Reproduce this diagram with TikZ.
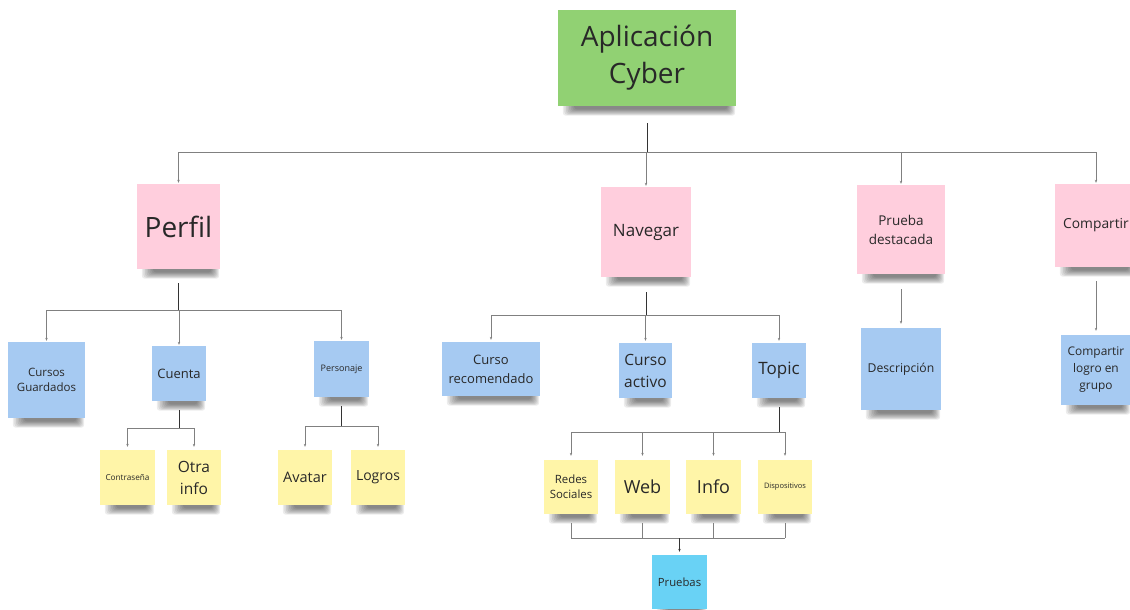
\documentclass[tikz,border=0pt]{standalone}
\usepackage{fontspec}
\setmainfont{Open Sans}
\usetikzlibrary{arrows.meta,calc}

\definecolor{ink}{RGB}{40,40,40}
\definecolor{notegreen}{RGB}{145,209,115}
\definecolor{notepink}{RGB}{255,206,221}
\definecolor{noteblue}{RGB}{166,202,242}
\definecolor{noteyellow}{RGB}{255,245,168}
\definecolor{notecyan}{RGB}{105,210,245}

\pgfdeclarelayer{paper}
\pgfdeclarelayer{shade}
\pgfsetlayers{paper,shade,main}

\tikzset{
  note/.style={inner sep=1pt, align=center, text=ink},
  stem/.style={draw=black!80, line width=0.9pt},
  rail/.style={draw=black!50, line width=0.7pt},
  link/.style={rail, -{Stealth[length=3pt,width=2.4pt]}},
  shadestrip/.style={fill=black, opacity=0.075, rounded corners=3pt},
}

\begin{document}
\begin{tikzpicture}[x=1pt,y=-1pt]
\useasboundingbox (0,0) rectangle (1130,610);
\begin{pgfonlayer}{paper}
  \fill[white] (0,0) rectangle (1130,610);
\end{pgfonlayer}

% ---------- sticky notes ----------
\node[note, fill=notegreen, minimum width=178pt, minimum height=96pt,
      font=\fontsize{28}{37}\selectfont] (app) at (647,58) {Aplicación\\Cyber};

\node[note, fill=notepink, minimum width=83pt, minimum height=85pt,
      font=\fontsize{28}{36}\selectfont] (perfil) at (178.5,226.5) {Perfil};
\node[note, fill=notepink, minimum width=90pt, minimum height=90pt,
      font=\fontsize{17}{22}\selectfont] (nav) at (646,232) {Navegar};
\node[note, fill=notepink, minimum width=88pt, minimum height=89pt,
      font=\fontsize{13.5}{19}\selectfont] (prueba) at (901,229.5) {Prueba\\destacada};
\node[note, fill=notepink, minimum width=82pt, minimum height=83pt,
      font=\fontsize{13.8}{18}\selectfont] (comp) at (1096,225.5) {Compartir};

\node[note, fill=noteblue, minimum width=77pt, minimum height=76pt,
      font=\fontsize{11.5}{15}\selectfont] (cg) at (46.5,380) {Cursos\\Guardados};
\node[note, fill=noteblue, minimum width=54pt, minimum height=55pt,
      font=\fontsize{13}{17}\selectfont] (cuenta) at (179,373.5) {Cuenta};
\node[note, fill=noteblue, minimum width=55pt, minimum height=56pt,
      font=\fontsize{9}{12}\selectfont] (pers) at (341.5,369) {Personaje};

\node[note, fill=noteyellow, minimum width=55pt, minimum height=55pt,
      font=\fontsize{8.2}{11}\selectfont] (contra) at (127.5,477.5) {Contraseña};
\node[note, fill=noteyellow, minimum width=54pt, minimum height=55pt,
      font=\fontsize{15.5}{22}\selectfont] (otra) at (194,477.5) {Otra\\info};
\node[note, fill=noteyellow, minimum width=54pt, minimum height=55pt,
      font=\fontsize{14.5}{19}\selectfont] (avatar) at (305,477.5) {Avatar};
\node[note, fill=noteyellow, minimum width=54pt, minimum height=55pt,
      font=\fontsize{14}{19}\selectfont] (logros) at (378,477.5) {Logros};

\node[note, fill=noteblue, minimum width=98pt, minimum height=54pt,
      font=\fontsize{13}{19}\selectfont] (crec) at (491,369) {Curso\\recomendado};
\node[note, fill=noteblue, minimum width=53pt, minimum height=55pt,
      font=\fontsize{15.5}{22}\selectfont] (cact) at (645.5,370.5) {Curso\\activo};
\node[note, fill=noteblue, minimum width=54pt, minimum height=55pt,
      font=\fontsize{17}{22}\selectfont] (topic) at (779,370.5) {Topic};

\node[note, fill=noteyellow, minimum width=54pt, minimum height=54pt,
      font=\fontsize{11.4}{15}\selectfont] (redes) at (571,487) {Redes\\Sociales};
\node[note, fill=noteyellow, minimum width=55pt, minimum height=54pt,
      font=\fontsize{18}{22}\selectfont] (web) at (642.5,487) {Web};
\node[note, fill=noteyellow, minimum width=55pt, minimum height=54pt,
      font=\fontsize{18}{22}\selectfont] (info) at (713.5,487) {Info};
\node[note, fill=noteyellow, minimum width=54pt, minimum height=54pt,
      font=\fontsize{7.5}{10}\selectfont] (disp) at (785,487) {Dispositivos};

\node[note, fill=notecyan, minimum width=55pt, minimum height=54pt,
      font=\fontsize{11.3}{15}\selectfont] (pruebas) at (679.5,582) {Pruebas};

\node[note, fill=noteblue, minimum width=80pt, minimum height=82pt,
      font=\fontsize{12.2}{16}\selectfont] (desc) at (901,369) {Descripción};
\node[note, fill=noteblue, minimum width=70pt, minimum height=70pt,
      font=\fontsize{11.9}{17}\selectfont] (clog) at (1096,370) {Compartir\\logro en\\grupo};

% soft shadow strip under every note
\begin{pgfonlayer}{shade}
\foreach \n in {app,perfil,nav,prueba,comp,cg,cuenta,pers,contra,otra,
                avatar,logros,crec,cact,topic,redes,web,info,disp,pruebas,desc,clog}
  \foreach \k in {0,...,7}
    \fill[shadestrip] ($(\n.south west)+(5+1.6*\k,-4)$)
                rectangle ($(\n.south east)+(-1-1.1*\k,9.5-0.9*\k)$);
\end{pgfonlayer}

% ---------- connectors ----------
% root level
\draw[stem] ($(app.south)+(0,17)$) -- ++(0,29) coordinate (r0);
\draw[rail] (r0 -| perfil) -- (r0 -| comp);
\foreach \n in {perfil,nav,prueba,comp}
  \draw[link] (r0 -| \n) -- ($(\n.north)+(0,-1)$);

% Perfil
\draw[stem] ($(perfil.south)+(0,14)$) -- ++(0,27) coordinate (p0);
\draw[rail] (p0 -| cg) -- (p0 -| pers);
\foreach \n in {cg,cuenta,pers}
  \draw[link] (p0 -| \n) -- ($(\n.north)+(0,-1)$);

% Cuenta
\draw[stem] ($(cuenta.south)+(0,9)$) -- ++(0,18) coordinate (c0);
\draw[rail] (c0 -| contra) -- (c0 -| otra);
\foreach \n in {contra,otra}
  \draw[link] (c0 -| \n) -- ($(\n.north)+(0,-3)$);

% Personaje
\draw[stem] ($(pers.south)+(0,9)$) -- ++(0,20) coordinate (s0);
\draw[rail] (s0 -| avatar) -- (s0 -| logros);
\foreach \n in {avatar,logros}
  \draw[link] (s0 -| \n) -- ($(\n.north)+(0,-3)$);

% Navegar
\draw[stem] ($(nav.south)+(0,15)$) -- ++(0,23) coordinate (n0);
\draw[rail] (n0 -| crec) -- (n0 -| topic);
\foreach \n in {crec,cact,topic}
  \draw[link] (n0 -| \n) -- ($(\n.north)+(0,-2)$);

% Topic
\draw[stem] ($(topic.south)+(0,9)$) -- ++(0,25) coordinate (t0);
\draw[rail] (t0 -| redes) -- (t0 -| disp);
\foreach \n in {redes,web,info,disp}
  \draw[link] (t0 -| \n) -- ($(\n.north)+(0,-4)$);

% merge into Pruebas
\coordinate (m0) at ($(info.south)+(0,24)$);
\foreach \n in {redes,web,info,disp}
  \draw[rail] ($(\n.south)+(0,9)$) -- (m0 -| \n);
\draw[rail] (m0 -| redes) -- (m0 -| disp);
\draw[stem, -{Stealth[length=3pt,width=2.4pt]}] (m0 -| pruebas) -- ($(pruebas.north)+(0,-3)$);

% single children
\draw[link] ($(prueba.south)+(0,15)$) -- ($(desc.north)+(0,-4)$);
\draw[link] ($(comp.south)+(0,14)$) -- ($(clog.north)+(0,-4)$);
\end{tikzpicture}
\end{document}
